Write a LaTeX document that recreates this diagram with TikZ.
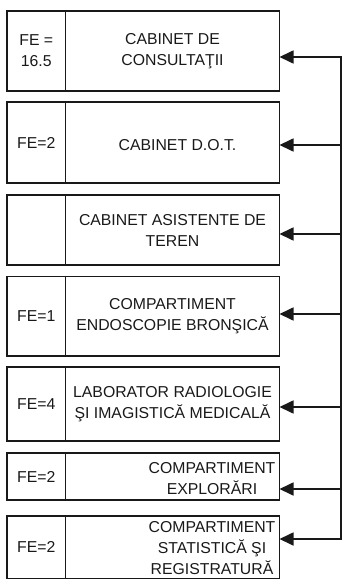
\documentclass[tikz,border=0pt]{standalone}
\usepackage{fontspec}
\setmainfont{Liberation Sans}
\usetikzlibrary{arrows.meta}
\begin{document}
\begin{tikzpicture}[x=1bp,y=-1bp,
  cell/.style={draw=black!90, line width=1.7bp, outer sep=0pt, inner sep=0pt,
    anchor=north west, align=center, text=black!90,
    font=\fontsize{15.8bp}{21bp}\selectfont},
  lcell/.style={cell, minimum width=58.5bp},
  rcell/.style={cell, minimum width=214bp},
  lbl/.style={align=center, inner sep=0pt, text=black!90,
    font=\fontsize{15.8bp}{21bp}\selectfont},
  conn/.style={draw=black!90, line width=1.7bp},
  arrowtip/.style={-{Triangle[length=14bp,width=13bp]}}
]
\useasboundingbox (0,0) rectangle (344,585);
% box 1
\node[lcell, minimum height=80bp] (l1) at (7,11) {FE =\\16.5};
\node[rcell, minimum height=80bp] (r1) at (65.5,11) {CABINET DE\\CONSULTAŢII};
% box 2
\node[lcell, minimum height=81bp] (l2) at (7,102) {FE=2};
\node[rcell, minimum height=81bp] (r2) at (65.5,102) {};
\node[lbl] (t2) at ([xshift=5bp,yshift=-3bp]r2.center) {CABINET D.O.T.};
% box 3
\node[lcell, minimum height=70bp] (l3) at (7,195) {};
\node[rcell, minimum height=70bp] (r3) at (65.5,195) {CABINET ASISTENTE DE\\TEREN};
% box 4
\node[lcell, minimum height=79.5bp] (l4) at (7,276.5) {FE=1};
\node[rcell, minimum height=79.5bp] (r4) at (65.5,276.5) {COMPARTIMENT\\ENDOSCOPIE BRONŞICĂ};
% box 5
\node[lcell, minimum height=74bp] (l5) at (7,367) {FE=4};
\node[rcell, minimum height=74bp] (r5) at (65.5,367) {LABORATOR RADIOLOGIE\\ŞI IMAGISTICĂ MEDICALĂ};
% box 6
\node[lcell, minimum height=47bp] (l6) at (7,453) {FE=2};
\node[rcell, minimum height=47bp] (r6) at (65.5,453) {};
\node[lbl] (t6) at ([xshift=39.5bp,yshift=-2bp]r6.center) {COMPARTIMENT\\EXPLORĂRI};
% box 7
\node[lcell, minimum height=62.5bp] (l7) at (7,516) {FE=2};
\node[rcell, minimum height=62.5bp] (r7) at (65.5,516) {};
\node[lbl] (t7) at ([xshift=39.5bp,yshift=-1bp]r7.center) {COMPARTIMENT\\STATISTICĂ ŞI\\REGISTRATURĂ};
% bus coordinates
\coordinate (c1) at (341,57);
\coordinate (c2) at (341,145);
\coordinate (c3) at (341,234);
\coordinate (c4) at (341,314);
\coordinate (c5) at (341,407);
\coordinate (c6) at (341,489);
\coordinate (c7) at (341,539);
% connectors
\draw[conn, {Triangle[length=14bp,width=13bp]}-{Triangle[length=14bp,width=13bp]}]
  (c1 -| r1.east) -- (c1) -- (c7) -- (c7 -| r7.east);
\draw[conn, arrowtip] (c2) -- (c2 -| r2.east);
\draw[conn, arrowtip] (c3) -- (c3 -| r3.east);
\draw[conn, arrowtip] (c4) -- (c4 -| r4.east);
\draw[conn, arrowtip] (c5) -- (c5 -| r5.east);
\draw[conn, arrowtip] (c6) -- (c6 -| r6.east);
\end{tikzpicture}
\end{document}
